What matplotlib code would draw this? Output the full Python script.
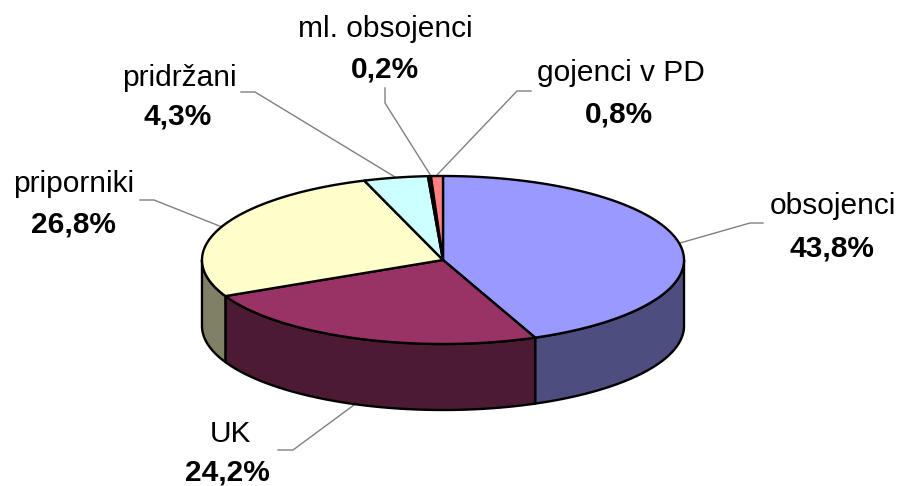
"""Excel style 3D pie, drawn by hand on a pixel sized axes."""

import numpy as np
import matplotlib.pyplot as plt
from matplotlib.patches import Polygon

plt.rcParams["font.family"] = ["Liberation Sans", "DejaVu Sans"]

categories = ["obsojenci", "UK", "priporniki", "pridržani", "ml. obsojenci", "gojenci v PD"]
shares = [43.8, 24.2, 26.8, 4.3, 0.2, 0.8]
share_labels = ["43,8%", "24,2%", "26,8%", "4,3%", "0,2%", "0,8%"]

TOP_COLORS = ["#9999FF", "#993366", "#FFFFCC", "#CCFFFF", "#660066", "#FF8080"]
SIDE_COLORS = ["#4D4D80", "#4D1A33", "#808066", "#668080", "#330033", "#804040"]

CX, CY = 443, 260
RX, RY = 241, 84
DEPTH = 66
FONT = 21.5

# name x, name y, percent x, percent y
LABEL_POS = [
    (833, 206, 832, 248),
    (230, 434, 227, 472),
    (74, 184, 73, 224),
    (179, 78, 178, 116),
    (385, 29, 385, 69),
    (621, 73, 619, 114),
]
LEADERS = [
    [(680, 243), (750, 223), (763, 223)],
    [(358, 402), (293, 450), (278, 450)],
    [(222, 227), (154, 200), (140, 200)],
    [(395, 177), (255, 92), (241, 92)],
    [(431, 176), (385, 103), (385, 88)],
    [(435, 177), (517, 91), (531, 91)],
]


def rim(t0, t1, n=200):
    t = np.radians(np.linspace(t0, t1, n))
    return CX + RX * np.sin(t), CY - RY * np.cos(t)


fig = plt.figure(figsize=(9, 4.86), dpi=100)
ax = fig.add_axes([0, 0, 1, 1])
ax.set_xlim(0, 900)
ax.set_ylim(486, 0)
ax.axis("off")

edges = np.cumsum([0] + shares) / sum(shares) * 360

# side walls first, only the front half of the rim shows
for i in range(len(shares)):
    t0, t1 = max(edges[i], 90), min(edges[i + 1], 270)
    if t1 <= t0:
        continue
    x, y = rim(t0, t1)
    pts = np.r_[np.c_[x, y], np.c_[x[::-1], y[::-1] + DEPTH]]
    ax.add_patch(Polygon(pts, fc=SIDE_COLORS[i], ec="black", lw=1.7, joinstyle="round", zorder=2))

for i in range(len(shares)):
    x, y = rim(edges[i], edges[i + 1])
    pts = np.r_[[(CX, CY)], np.c_[x, y]]
    ax.add_patch(Polygon(pts, fc=TOP_COLORS[i], ec="black", lw=1.7, joinstyle="round", zorder=3))

for path in LEADERS:
    xs, ys = zip(*path)
    ax.plot(xs, ys, color="#808080", lw=1, zorder=1)

for name, pct, (nx, ny, px, py) in zip(categories, share_labels, LABEL_POS):
    ax.text(nx, ny, name, fontsize=FONT, ha="center", va="center", color="black")
    ax.text(px, py, pct, fontsize=FONT, fontweight="bold", ha="center", va="center", color="black")

fig.savefig("out.png", dpi=100)
